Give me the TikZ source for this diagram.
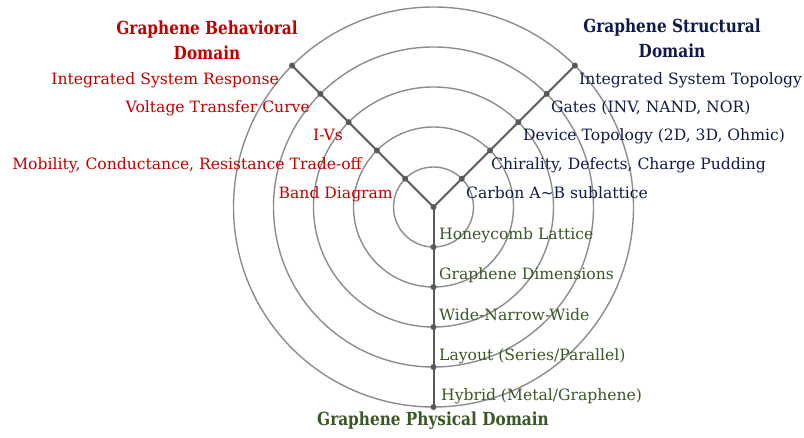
\documentclass[tikz,border=0pt]{standalone}
\usepackage{fontspec}
\setmainfont{DejaVu Serif}
\newfontfamily\headfont[FakeStretch=0.85]{DejaVu Serif}
\usetikzlibrary{calc}
\definecolor{behav}{HTML}{C00000}
\definecolor{struct}{HTML}{0E1A48}
\definecolor{phys}{HTML}{385723}
\definecolor{ringgray}{HTML}{8C8C8C}
\definecolor{axisgray}{HTML}{595959}
\begin{document}
\begin{tikzpicture}[x=1pt,y=1pt,
  ring/.style={draw=ringgray,line width=1.4pt},
  axis/.style={draw=axisgray,line width=2pt},
  dot/.style={circle,fill=axisgray,inner sep=0pt,minimum size=6pt},
  item/.style={font=\fontsize{15.6}{18}\selectfont,inner sep=0pt},
  title/.style={font=\headfont\fontsize{18}{25}\selectfont\bfseries,align=center,inner sep=0pt}]
\useasboundingbox (0,0) rectangle (804,437);
\coordinate (c) at (433.5,230);
% concentric rings
\foreach \r in {40,80,120,160,200} \draw[ring] (c) circle[radius=\r];
% the three domain axes
\coordinate (b5) at ($(c)+(135:200)$);
\coordinate (s5) at ($(c)+(45:200)$);
\coordinate (p5) at ($(c)+(270:200)$);
\draw[axis] (b5) -- (c) -- (s5);
\draw[axis] (c) -- (p5);
% level markers on every axis
\node[dot] (c0) at (c) {};
\foreach \k/\r in {1/40,2/80,3/120,4/160,5/200} {
  \node[dot] (bd\k) at ($(c)+(135:\r)$) {};
  \node[dot] (sd\k) at ($(c)+(45:\r)$) {};
  \node[dot] (pd\k) at ($(c)+(270:\r)$) {};
}
% behavioral domain
\node[title,text=behav,anchor=base] (bt) at (207,377) {Graphene Behavioral\\Domain};
\begin{scope}[every node/.style={item,text=behav,anchor=base east}]
\node (b1) at (279,352) {Integrated System Response};
\node (b2) at (310,324) {Voltage Transfer Curve};
\node (b3) at (343,296) {I-Vs};
\node (b4) at (362,267) {Mobility, Conductance, Resistance Trade-off};
\node (b5t) at (393,238) {Band Diagram};
\end{scope}
% structural domain
\node[title,text=struct,anchor=base] (st) at (672,379) {Graphene Structural\\Domain};
\begin{scope}[every node/.style={item,text=struct,anchor=base west}]
\node (s1) at (579,352) {Integrated System Topology};
\node (s2) at (551,324) {Gates (INV, NAND, NOR)};
\node (s3) at (523,296) {Device Topology (2D, 3D, Ohmic)};
\node (s4) at (491,267) {Chirality, Defects, Charge Pudding};
\node (s5t) at (466,238) {Carbon A\textasciitilde B sublattice};
\end{scope}
% physical domain
\begin{scope}[every node/.style={item,text=phys,anchor=base west}]
\node (p1) at (439,197) {Honeycomb Lattice};
\node (p2) at (439,157) {Graphene Dimensions};
\node (p3) at (439,117) {Wide-Narrow-Wide};
\node (p4) at (439,77) {Layout (Series/Parallel)};
\node (p5t) at (441,37) {Hybrid (Metal/Graphene)};
\end{scope}
\node[title,text=phys,anchor=base] (pt) at (433,12) {Graphene Physical Domain};
\end{tikzpicture}
\end{document}
